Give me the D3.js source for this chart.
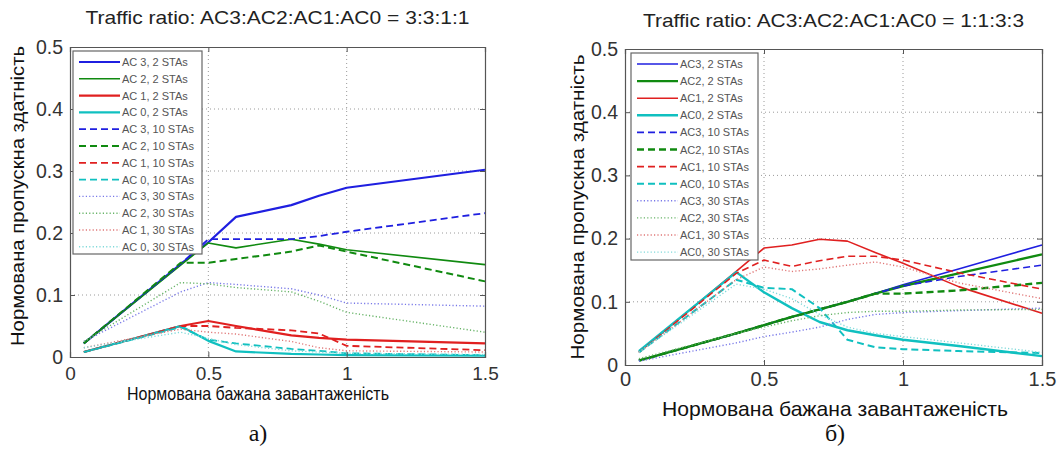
<!DOCTYPE html>
<html>
<head>
<meta charset="utf-8">
<script src="https://cdn.jsdelivr.net/npm/d3@7"></script>
<style>
  html, body { margin: 0; padding: 0; background: #fff; }
  svg { display: block; }
  text { font-family: "Liberation Sans", Arial, sans-serif; }
</style>
</head>
<body>
<svg id="fig" width="1057" height="449"></svg>
<script>
// Offered load (x) sample points for each panel
const loadA = [0.05, 0.4, 0.5, 0.6, 0.8, 0.9, 1.0, 1.5];
const loadB = [0.05, 0.4, 0.5, 0.6, 0.7, 0.8, 0.9, 1.0, 1.2, 1.5];

// Panel а) traffic ratio 3:3:1:1 — normalized throughput
const a_ac3_2  = [0.022, 0.150, 0.185, 0.226, 0.245, 0.260, 0.273, 0.302];
const a_ac2_2  = [0.022, 0.148, 0.184, 0.176, 0.190, 0.182, 0.173, 0.149];
const a_ac1_2  = [0.008, 0.050, 0.058, 0.050, 0.035, 0.031, 0.028, 0.022];
const a_ac0_2  = [0.008, 0.050, 0.026, 0.009, 0.005, 0.004, 0.003, 0.002];
const a_ac3_10 = [0.022, 0.150, 0.190, 0.190, 0.190, 0.195, 0.202, 0.232];
const a_ac2_10 = [0.022, 0.152, 0.152, 0.158, 0.170, 0.180, 0.170, 0.122];
const a_ac1_10 = [0.008, 0.050, 0.050, 0.047, 0.043, 0.038, 0.018, 0.011];
const a_ac0_10 = [0.008, 0.048, 0.028, 0.022, 0.013, 0.010, 0.006, 0.003];
const a_ac3_30 = [0.025, 0.105, 0.120, 0.117, 0.110, 0.100, 0.087, 0.082];
const a_ac2_30 = [0.025, 0.120, 0.118, 0.112, 0.105, 0.090, 0.072, 0.040];
const a_ac1_30 = [0.015, 0.045, 0.040, 0.037, 0.025, 0.015, 0.010, 0.008];
const a_ac0_30 = [0.015, 0.040, 0.030, 0.020, 0.010, 0.008, 0.006, 0.004];

// Panel б) traffic ratio 1:1:3:3 — normalized throughput
const b_ac3_2  = [0.007, 0.050, 0.063, 0.076, 0.088, 0.100, 0.113, 0.127, 0.152, 0.190];
const b_ac2_2  = [0.007, 0.050, 0.063, 0.076, 0.088, 0.100, 0.113, 0.125, 0.145, 0.175];
const b_ac1_2  = [0.020, 0.148, 0.185, 0.190, 0.199, 0.196, 0.178, 0.161, 0.124, 0.082];
const b_ac0_2  = [0.022, 0.147, 0.115, 0.090, 0.068, 0.055, 0.047, 0.040, 0.030, 0.014];
const b_ac3_10 = [0.007, 0.050, 0.063, 0.076, 0.088, 0.100, 0.113, 0.125, 0.140, 0.158];
const b_ac2_10 = [0.007, 0.050, 0.063, 0.076, 0.088, 0.100, 0.113, 0.113, 0.118, 0.130];
const b_ac1_10 = [0.020, 0.145, 0.166, 0.156, 0.165, 0.172, 0.172, 0.166, 0.146, 0.120];
const b_ac0_10 = [0.020, 0.135, 0.122, 0.120, 0.090, 0.040, 0.028, 0.025, 0.022, 0.019];
const b_ac3_30 = [0.006, 0.035, 0.045, 0.052, 0.060, 0.072, 0.080, 0.083, 0.086, 0.090];
const b_ac2_30 = [0.010, 0.050, 0.060, 0.070, 0.078, 0.083, 0.085, 0.085, 0.087, 0.088];
const b_ac1_30 = [0.020, 0.135, 0.155, 0.148, 0.152, 0.158, 0.163, 0.155, 0.130, 0.105];
const b_ac0_30 = [0.020, 0.128, 0.120, 0.105, 0.080, 0.060, 0.050, 0.045, 0.035, 0.020];

// Axis ticks and texts
const xTicks = [0, 0.5, 1, 1.5];
const yTicks = [0, 0.1, 0.2, 0.3, 0.4, 0.5];
const xTickLabels = ["0", "0.5", "1", "1.5"];
const yTickLabels = ["0", "0.1", "0.2", "0.3", "0.4", "0.5"];
const xAxisTitle = "Нормована бажана завантаженість";
const yAxisTitle = "Нормована пропускна здатність";
const titleA = "Traffic ratio: AC3:AC2:AC1:AC0 = 3:3:1:1";
const titleB = "Traffic ratio: AC3:AC2:AC1:AC0 = 1:1:3:3";
const legendA = ["AC 3, 2 STAs", "AC 2, 2 STAs", "AC 1, 2 STAs", "AC 0, 2 STAs",
                 "AC 3, 10 STAs", "AC 2, 10 STAs", "AC 1, 10 STAs", "AC 0, 10 STAs",
                 "AC 3, 30 STAs", "AC 2, 30 STAs", "AC 1, 30 STAs", "AC 0, 30 STAs"];
const legendB = ["AC3, 2 STAs", "AC2, 2 STAs", "AC1, 2 STAs", "AC0, 2 STAs",
                 "AC3, 10 STAs", "AC2, 10 STAs", "AC1, 10 STAs", "AC0, 10 STAs",
                 "AC3, 30 STAs", "AC2, 30 STAs", "AC1, 30 STAs", "AC0, 30 STAs"];

// Line colours per access category (solid/dashed, and lighter dotted)
const acColor = ["#1f1fe0", "#108a10", "#e02020", "#10c0c0"];
const dotColor = ["#7878e8", "#68b468", "#e07878", "#80dada"];
const dashFor = grp => grp === 1 ? "7,4" : grp === 2 ? "1.2,2.2" : null;

const svg = d3.select("#fig");

function drawPanel(p) {
  const x = d3.scaleLinear().domain([0, 1.5]).range([p.left, p.right]);
  const y = d3.scaleLinear().domain([0, 0.5]).range([p.bottom, p.top]);
  const g = svg.append("g");

  // dotted grid
  g.selectAll("line.gx").data(xTicks.slice(1, -1)).join("line")
    .attr("x1", d => x(d)).attr("x2", d => x(d))
    .attr("y1", p.top).attr("y2", p.bottom)
    .attr("stroke", "#9a9a9a").attr("stroke-width", 1).attr("stroke-dasharray", "1,3");
  g.selectAll("line.gy").data(yTicks.slice(1, -1)).join("line")
    .attr("x1", p.left).attr("x2", p.right)
    .attr("y1", d => y(d)).attr("y2", d => y(d))
    .attr("stroke", "#9a9a9a").attr("stroke-width", 1).attr("stroke-dasharray", "1,3");

  // series
  const line = d3.line().x((d, i) => x(p.load[i])).y(d => y(d));
  p.series.forEach((s, k) => {
    const grp = Math.floor(k / 4), ac = k % 4;
    g.append("path").datum(s)
      .attr("fill", "none")
      .attr("stroke", grp === 2 ? dotColor[ac] : acColor[ac])
      .attr("stroke-width", p.widths[k])
      .attr("stroke-dasharray", dashFor(grp))
      .attr("stroke-linejoin", "round")
      .attr("d", line);
  });

  // axes box with inward ticks
  const axB = d3.axisBottom(x).tickValues(xTicks).tickSize(-5).tickPadding(p.xPad).tickFormat((d, i) => xTickLabels[i]);
  const axT = d3.axisTop(x).tickValues(xTicks).tickSize(-5).tickFormat("");
  const axL = d3.axisLeft(y).tickValues(yTicks).tickSize(-5).tickPadding(7).tickFormat((d, i) => yTickLabels[i]);
  const axR = d3.axisRight(y).tickValues(yTicks).tickSize(-5).tickFormat("");
  [[axB, `translate(0,${p.bottom})`, p.xTickFont], [axT, `translate(0,${p.top})`, 10],
   [axL, `translate(${p.left},0)`, p.yTickFont], [axR, `translate(${p.right},0)`, 10]].forEach(([ax, tr, fs]) => {
    const a = g.append("g").attr("transform", tr).call(ax);
    a.select(".domain").attr("stroke", "#555").attr("stroke-width", 1.2);
    a.selectAll(".tick line").attr("stroke", "#555");
    a.selectAll(".tick text").attr("fill", "#333")
      .style("font-family", "Liberation Sans, Arial, sans-serif").style("font-size", fs + "px");
  });

  // legend
  const lg = g.append("g");
  lg.append("rect")
    .attr("x", p.leg.x).attr("y", p.leg.y).attr("width", p.leg.w).attr("height", p.leg.h)
    .attr("fill", "#fff").attr("stroke", "#666").attr("stroke-width", 1.2);
  p.legend.forEach((t, k) => {
    const grp = Math.floor(k / 4), ac = k % 4;
    const yy = p.leg.y + p.leg.first + k * p.leg.step;
    lg.append("line")
      .attr("x1", p.leg.x + 6).attr("x2", p.leg.x + 47).attr("y1", yy).attr("y2", yy)
      .attr("stroke", grp === 2 ? dotColor[ac] : acColor[ac])
      .attr("stroke-width", p.widths[k])
      .attr("stroke-dasharray", dashFor(grp));
    lg.append("text").attr("x", p.leg.x + 49).attr("y", yy + 4)
      .style("font-size", "11px").attr("fill", "#555").text(t);
  });

  // titles and axis labels
  svg.append("text").attr("x", (p.left + p.right) / 2).attr("y", p.titleY)
    .attr("text-anchor", "middle").style("font-size", "19px").attr("fill", "#222")
    .attr("textLength", p.titleW).attr("lengthAdjust", "spacingAndGlyphs").text(p.title);
  svg.append("text").attr("x", p.xlabX).attr("y", p.xlabY)
    .attr("text-anchor", "middle").style("font-size", p.xlabFont + "px").attr("fill", "#111")
    .attr("textLength", p.xlabW).attr("lengthAdjust", "spacingAndGlyphs").text(xAxisTitle);
  svg.append("text").attr("transform", `translate(${p.ylabX},${p.ylabY}) rotate(-90)`)
    .attr("text-anchor", "middle").style("font-size", "18px").attr("fill", "#111")
    .attr("textLength", p.ylabW).attr("lengthAdjust", "spacingAndGlyphs").text(yAxisTitle);
  svg.append("text").attr("x", p.xlabX).attr("y", 441)
    .attr("text-anchor", "middle").style("font-size", "24px").attr("fill", "#111")
    .style("font-family", "Liberation Serif, serif").text(p.tag);
}

const widthsA = [2.2, 1.6, 2.2, 2.2, 1.8, 2.0, 1.8, 1.8, 1.4, 1.4, 1.4, 1.4];
const widthsB = [1.6, 2.4, 1.6, 2.4, 1.6, 2.4, 1.6, 2.0, 1.4, 1.4, 1.4, 1.4];

const panelA = {
  left: 70, right: 485, top: 47, bottom: 357,
  load: loadA,
  series: [a_ac3_2, a_ac2_2, a_ac1_2, a_ac0_2, a_ac3_10, a_ac2_10, a_ac1_10, a_ac0_10,
           a_ac3_30, a_ac2_30, a_ac1_30, a_ac0_30],
  widths: widthsA, legend: legendA, title: titleA, titleY: 24, titleW: 384,
  leg: {x: 73, y: 51, w: 129, h: 203, first: 11, step: 16.8},
  xTickFont: 19, yTickFont: 19.5, xPad: 10,
  xlabX: 258, xlabY: 400, xlabFont: 19, xlabW: 262,
  ylabX: 24, ylabY: 196, ylabW: 300, tag: "а)"
};
const panelB = {
  left: 625, right: 1042, top: 49, bottom: 365,
  load: loadB,
  series: [b_ac3_2, b_ac2_2, b_ac1_2, b_ac0_2, b_ac3_10, b_ac2_10, b_ac1_10, b_ac0_10,
           b_ac3_30, b_ac2_30, b_ac1_30, b_ac0_30],
  widths: widthsB, legend: legendB, title: titleB, titleY: 27, titleW: 381,
  leg: {x: 631, y: 53, w: 127, h: 207, first: 11, step: 17.1},
  xTickFont: 20, yTickFont: 19.5, xPad: 7,
  xlabX: 835, xlabY: 416, xlabFont: 21, xlabW: 346,
  ylabX: 584, ylabY: 207, ylabW: 305, tag: "б)"
};

[panelA, panelB].forEach(drawPanel);
</script>
</body>
</html>
